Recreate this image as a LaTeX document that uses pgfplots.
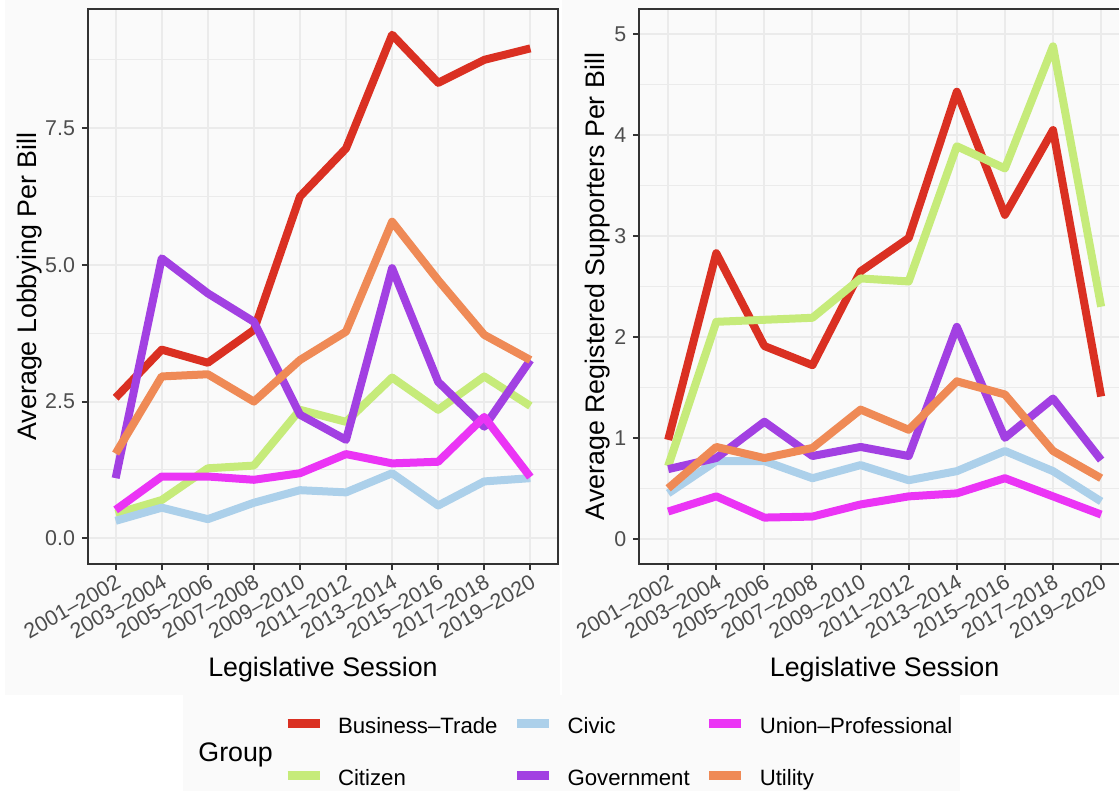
\documentclass[border=0pt]{standalone}
\usepackage{fontspec}
\setmainfont{Liberation Sans}
\usepackage{pgfplots}
\usepackage{pgfplotstable}
\pgfplotsset{compat=1.18}

\definecolor{cBiz}{RGB}{218,48,34}
\definecolor{cCit}{RGB}{198,235,122}
\definecolor{cCiv}{RGB}{172,208,234}
\definecolor{cGov}{RGB}{162,64,226}
\definecolor{cUni}{RGB}{235,52,245}
\definecolor{cUti}{RGB}{239,138,86}
\definecolor{gridc}{RGB}{235,235,235}
\definecolor{framec}{RGB}{51,51,51}
\definecolor{tickc}{RGB}{77,77,77}
\definecolor{bgc}{RGB}{250,250,250}

% Average lobbying per bill, by session (1 = 2001-2002 ... 10 = 2019-2020)
\pgfplotstableread{
x  biz   cit   civ   gov   uni   uti
1  2.57  0.45  0.32  1.10  0.52  1.55
2  3.45  0.70  0.56  5.12  1.13  2.96
3  3.21  1.28  0.35  4.48  1.13  3.00
4  3.81  1.33  0.65  3.96  1.07  2.50
5  6.25  2.35  0.88  2.26  1.19  3.26
6  7.13  2.13  0.84  1.80  1.54  3.78
7  9.21  2.94  1.19  4.94  1.37  5.79
8  8.33  2.35  0.60  2.86  1.40  4.72
9  8.75  2.96  1.04  2.04  2.22  3.72
10 8.96  2.42  1.10  3.26  1.12  3.26
}\lobby

% Average registered supporters per bill
\pgfplotstableread{
x  biz   cit   civ   gov   uni   uti
1  0.98  0.72  0.45  0.69  0.27  0.50
2  2.83  2.15  0.77  0.80  0.42  0.91
3  1.91  2.17  0.77  1.16  0.21  0.80
4  1.72  2.19  0.60  0.82  0.22  0.90
5  2.65  2.58  0.73  0.91  0.34  1.28
6  2.98  2.55  0.58  0.82  0.42  1.08
7  4.43  3.89  0.67  2.10  0.45  1.56
8  3.21  3.67  0.87  1.00  0.60  1.43
9  4.05  4.88  0.67  1.39  0.42  0.87
10 1.41  2.30  0.37  0.78  0.24  0.60
}\supp

\newcommand{\tickfont}{\fontsize{10.7}{12}\selectfont}
\newcommand{\legfont}{\fontsize{11.1}{12.5}\selectfont}
\newcommand{\titlefont}{\fontsize{13.4}{15}\selectfont}

\pgfplotsset{
  panel/.style={
    scale only axis,
    height=277.5pt,
    xmin=0.4, xmax=10.6,
    xtick={1,...,10},
    xticklabels={2001–2002,2003–2004,2005–2006,2007–2008,2009–2010,
                 2011–2012,2013–2014,2015–2016,2017–2018,2019–2020},
    tick pos=left,
    tick align=outside,
    major tick length=3pt,
    minor tick length=0pt,
    tick style={framec, line width=1pt},
    axis line style={framec, line width=1.1pt},
    grid=both,
    major grid style={gridc, line width=1pt},
    minor grid style={gridc, line width=0.55pt},
    xticklabel style={rotate=30, anchor=north east, font=\tickfont,
                      text=tickc, inner sep=1pt},
    yticklabel style={font=\tickfont, text=tickc},
    label style={font=\titlefont},
    /pgf/number format/assume math mode=true,
    xlabel={Legislative Session},
    xlabel style={at={(axis description cs:0.5,-0.2036)}, anchor=base},
  },
  series/.style={line width=4pt, line join=round, line cap=butt, mark=none},
}

\begin{document}
\begin{tikzpicture}
\useasboundingbox (0,0) rectangle (559.5pt,395.5pt);
\clip (0,0) rectangle (559.5pt,395.5pt);
\fill[bgc] (2.5pt,48pt) rectangle (280pt,395.5pt);
\fill[bgc] (281pt,48pt) rectangle (559.5pt,395.5pt);
\fill[bgc] (91.5pt,0pt) rectangle (480pt,48pt);

% Lobbying panel
\begin{axis}[panel,
  at={(44pt,113.5pt)}, anchor=south west,
  width=235pt,
  ymin=-0.47, ymax=9.68,
  ytick={0,2.5,5,7.5},
  minor ytick={1.25,3.75,6.25,8.75},
  yticklabel style={/pgf/number format/.cd, fixed, fixed zerofill, precision=1},
  ylabel={Average Lobbying Per Bill},
  ylabel style={at={(axis description cs:-0.1106,0.5)}, anchor=base},
]
\addplot[series, cBiz] table[x=x, y=biz] {\lobby};
\addplot[series, cCit] table[x=x, y=cit] {\lobby};
\addplot[series, cCiv] table[x=x, y=civ] {\lobby};
\addplot[series, cGov] table[x=x, y=gov] {\lobby};
\addplot[series, cUni] table[x=x, y=uni] {\lobby};
\addplot[series, cUti] table[x=x, y=uti] {\lobby};
\end{axis}

% Supporters panel
\begin{axis}[panel,
  at={(319.65pt,113.5pt)}, anchor=south west,
  width=245.35pt,
  ymin=-0.25, ymax=5.25,
  ytick={0,...,5},
  minor ytick={0.5,1.5,2.5,3.5,4.5},
  ylabel={Average Registered Supporters Per Bill},
  ylabel style={at={(axis description cs:-0.0707,0.5)}, anchor=base},
]
\addplot[series, cBiz] table[x=x, y=biz] {\supp};
\addplot[series, cCit] table[x=x, y=cit] {\supp};
\addplot[series, cCiv] table[x=x, y=civ] {\supp};
\addplot[series, cGov] table[x=x, y=gov] {\supp};
\addplot[series, cUni] table[x=x, y=uni] {\supp};
\addplot[series, cUti] table[x=x, y=uti] {\supp};
\end{axis}

% Shared legend
\begin{axis}[
  at={(0pt,0pt)}, anchor=south west,
  scale only axis, width=559.5pt, height=395.5pt,
  hide axis,
  xmin=0, xmax=559.5, ymin=0, ymax=395.5,
  legend columns=3,
  legend cell align=left,
  legend style={
    at={(axis cs:141.5,36.5)}, anchor=north west,
    draw=none, fill=none, inner sep=0pt, outer sep=0pt,
    font=\legfont,
    nodes={inner sep=0pt, text height=8pt, text depth=2.5pt},
    /tikz/row sep=15.5pt,
    /tikz/every even column/.append style={column sep=7.5pt},
    /tikz/every odd column/.append style={column sep=7pt},
  },
  legend image code/.code={
    \draw[line width=4.5pt, line cap=butt] (0pt,2.6pt) -- (16pt,2.6pt);
  },
]
\addlegendimage{cBiz}\addlegendentry{Business–Trade}
\addlegendimage{cCiv}\addlegendentry{Civic}
\addlegendimage{cUni}\addlegendentry{Union–Professional}
\addlegendimage{cCit}\addlegendentry{Citizen}
\addlegendimage{cGov}\addlegendentry{Government}
\addlegendimage{cUti}\addlegendentry{Utility}
\node[anchor=base west, font=\titlefont, inner sep=0pt] at (axis cs:99,14.6) {Group};
\end{axis}
\end{tikzpicture}
\end{document}
